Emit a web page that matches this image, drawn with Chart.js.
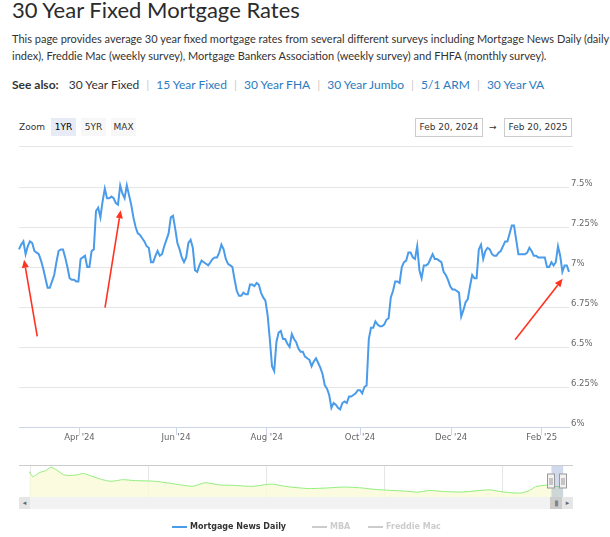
<!DOCTYPE html>
<html>
<head>
<meta charset="utf-8">
<script src="https://cdn.jsdelivr.net/npm/chart.js@4.4.1/dist/chart.umd.min.js"></script>
<style>
  body { margin:0; width:610px; height:537px; position:relative; overflow:hidden; background:#fff; font-family: Lato, sans-serif; color:#333; }
  h1 { position:absolute; left:12px; top:-1px; margin:0; font-size:22px; line-height:22px; font-weight:400; color:#2b2b2b; white-space:nowrap; }
  .intro { position:absolute; left:12px; top:30px; width:600px; font-size:11px; line-height:17px; margin:0; }
  .see { position:absolute; left:12px; top:77px; font-size:12px; line-height:16px; white-space:nowrap; }
  .see b { font-weight:700; margin-right:7px; }
  .see a { color:#2b7bbf; text-decoration:none; }
  .see .sep { color:#ccc; margin:0 7px; }
  .rs { position:absolute; font-family:"DejaVu Sans", sans-serif; font-size:9px; color:#333; }
  .btn { position:absolute; top:118px; height:18px; width:25px; line-height:18px; text-align:center; background:#f7f7f7; }
  .btn.on { background:#e6ebf5; color:#000; }
  .date { position:absolute; top:118px; height:17px; line-height:17px; width:66px; border:1px solid #ccc; text-align:center; }
  .hr { position:absolute; left:19px; top:146px; width:554px; height:1px; background:#e6e6e6; }
  canvas { position:absolute; left:0; }
  .sb { position:absolute; top:497px; height:12px; background:#f2f2f2; }
  .sbtn { position:absolute; top:497px; height:12px; width:11px; background:#e6e6e6; font-family:"DejaVu Sans"; font-size:7px; line-height:12px; text-align:center; color:#666; }
  .thumb { position:absolute; top:497px; height:12px; background:#cccccc; font-family:"DejaVu Sans"; font-size:6px; line-height:12px; text-align:center; color:#333; letter-spacing:-1px; }
  .legend { position:absolute; top:520px; left:0; width:610px; height:14px; font-family:"DejaVu Sans", sans-serif; font-size:8px; font-weight:bold; }
  .legend span { position:absolute; top:0; line-height:14px; white-space:nowrap; }
  .legend i { position:absolute; top:6px; height:2px; width:15px; }
</style>
</head>
<body>
<h1>30 Year Fixed Mortgage Rates</h1>
<p class="intro">This page provides average 30 year fixed mortgage rates from several different surveys including Mortgage News Daily (daily index), Freddie Mac (weekly survey), Mortgage Bankers Association (weekly survey) and FHFA (monthly survey).</p>
<div class="see"><b>See also:</b> 30 Year Fixed<span class="sep">|</span><a>15 Year Fixed</a><span class="sep">|</span><a>30 Year FHA</a><span class="sep">|</span><a>30 Year Jumbo</a><span class="sep">|</span><a>5/1 ARM</a><span class="sep">|</span><a>30 Year VA</a></div>

<div class="rs" style="left:19px; top:118px; line-height:18px;">Zoom</div>
<div class="rs btn on" style="left:51px;">1YR</div>
<div class="rs btn" style="left:81px;">5YR</div>
<div class="rs btn" style="left:111px;">MAX</div>
<div class="rs date" style="left:415px;">Feb 20, 2024</div>
<div class="rs" style="left:489px; top:118px; line-height:18px;">→</div>
<div class="rs date" style="left:504px;">Feb 20, 2025</div>
<div class="hr"></div>

<canvas id="rateChart" width="610" height="300" style="top:150px;"></canvas>
<canvas id="navChart" width="610" height="40" style="top:460px;"></canvas>

<div class="sb" style="left:19px; width:554px;"></div>
<div class="sbtn" style="left:19px;">◂</div>
<div class="thumb" style="left:550px; width:12px;">|||</div>
<div class="sbtn" style="left:562px;">▸</div>

<div class="legend" id="legend"></div>

<script>
// Mortgage News Daily 30yr fixed, one value per trading day, Feb 20 2024 -> Feb 20 2025
const rates = [
  7.11, 7.14, 7.16, 7.08, 7.13, 7.16, 7.15, 7.10, 7.09, 7.08,
  7.04, 6.99, 6.93, 6.87, 6.87, 6.91, 6.95, 7.03, 7.10, 7.11,
  7.11, 7.06, 7.00, 6.93, 6.92, 6.92, 6.91, 6.91, 7.05, 7.06,
  7.07, 7.00, 7.00, 7.10, 7.11, 7.35, 7.37, 7.31, 7.41, 7.49,
  7.43, 7.43, 7.44, 7.43, 7.40, 7.39, 7.51, 7.46, 7.43, 7.51,
  7.45, 7.39, 7.31, 7.25, 7.21, 7.20, 7.18, 7.16, 7.13, 7.12,
  7.03, 7.03, 7.07, 7.10, 7.07, 7.08, 7.13, 7.17, 7.21, 7.31,
  7.32, 7.24, 7.15, 7.11, 7.06, 7.03, 7.06, 7.15, 7.17, 7.12,
  6.98, 6.97, 7.01, 7.04, 7.03, 7.02, 7.01, 7.03, 7.05, 7.06,
  7.06, 7.09, 7.14, 7.11, 7.05, 7.02, 7.01, 7.00, 6.92, 6.85,
  6.82, 6.82, 6.84, 6.83, 6.83, 6.89, 6.89, 6.88, 6.90, 6.89,
  6.84, 6.81, 6.79, 6.70, 6.55, 6.38, 6.35, 6.53, 6.59, 6.60,
  6.55, 6.55, 6.52, 6.50, 6.58, 6.55, 6.53, 6.49, 6.47, 6.47,
  6.44, 6.43, 6.42, 6.38, 6.41, 6.43, 6.40, 6.37, 6.33, 6.26,
  6.24, 6.20, 6.12, 6.15, 6.14, 6.12, 6.11, 6.15, 6.16, 6.15,
  6.19, 6.19, 6.20, 6.21, 6.23, 6.23, 6.21, 6.25, 6.26, 6.55,
  6.62, 6.62, 6.66, 6.64, 6.63, 6.63, 6.64, 6.67, 6.68, 6.81,
  6.85, 6.91, 6.91, 6.90, 7.00, 7.03, 7.04, 7.09, 7.09, 7.06,
  7.05, 7.13, 6.98, 6.93, 7.01, 7.01, 7.02, 7.05, 7.08, 7.05,
  7.05, 7.04, 7.03, 6.97, 6.95, 6.92, 6.88, 6.86, 6.86, 6.85,
  6.84, 6.69, 6.73, 6.78, 6.80, 6.88, 6.95, 6.93, 6.93, 7.11,
  7.14, 7.05, 7.10, 7.12, 7.11, 7.08, 7.07, 7.07, 7.09, 7.10,
  7.13, 7.16, 7.16, 7.21, 7.26, 7.26, 7.17, 7.08, 7.08, 7.08,
  7.08, 7.09, 7.12, 7.10, 7.07, 7.07, 7.06, 7.06, 7.06, 7.06,
  7.00, 7.00, 7.03, 7.01, 7.03, 7.13, 7.07, 6.97, 7.01, 7.01,
  6.97
];

// x axis ticks (trading-day index of the first session of the month)
const xTickIdx = [27.5, 71.4, 112.6, 155, 196.4, 237.6];
const xTickLabels = ["Apr '24", "Jun '24", "Aug '24", "Oct '24", "Dec '24", "Feb '25"];
const yTicks = [6, 6.25, 6.5, 6.75, 7, 7.25, 7.5];

// red annotation arrows: [fromIdx, fromRate, toIdx, toRate]
const arrows = [
  [8.3, 6.566, 2.3, 7.045],
  [39.1, 6.746, 46.2, 7.355],
  [225.5, 6.545, 247.1, 6.926]
];
const arrowColor = '#ff3320';

// navigator: long-run history
const navYears = [1979.9, 1980.2, 1980.5, 1980.8, 1981.3, 1981.7, 1982.2, 1982.8, 1983.3, 1984.0,
  1984.5, 1985.3, 1986.1, 1986.8, 1987.4, 1987.8, 1988.9, 1990.0, 1990.7, 1992.1,
  1993.0, 1993.8, 1994.8, 1996.0, 1997.3, 1998.8, 2000.4, 2001.7, 2003.5, 2005.0,
  2006.6, 2008.0, 2009.3, 2010.5, 2012.0, 2012.8, 2013.8, 2015.0, 2016.6, 2018.9,
  2019.8, 2020.8, 2021.6, 2022.3, 2022.8, 2023.8, 2024.6, 2025.1];
const navRates = [15.8, 12.8, 14.0, 15.4, 16.5, 18.5, 17.0, 14.0, 13.5, 14.0,
  14.8, 12.8, 11.0, 10.0, 10.5, 11.0, 10.4, 10.2, 9.9, 8.5,
  7.5, 7.0, 9.1, 7.8, 7.5, 6.9, 8.3, 6.8, 5.6, 5.9,
  6.5, 6.0, 5.0, 4.5, 3.9, 3.4, 4.4, 3.8, 3.5, 4.8,
  3.8, 3.0, 2.9, 4.5, 6.7, 7.7, 6.8, 7.0];
const navTicks = [1980, 1990, 2000, 2010, 2020];
const navRange = [2024.14, 2025.14];

const seriesNames = ['Mortgage News Daily', 'MBA', 'Freddie Mac'];
const seriesColors = ['#4a9be9', '#cccccc', '#cccccc'];
const seriesText = ['#333333', '#cccccc', '#cccccc'];

const axisFont = { family: 'DejaVu Sans', size: 8.5 };

const arrowPlugin = {
  id: 'arrows',
  afterDatasetsDraw(chart) {
    const { ctx, scales: { x, y } } = chart;
    ctx.save();
    ctx.strokeStyle = arrowColor;
    ctx.fillStyle = arrowColor;
    ctx.lineWidth = 1.6;
    arrows.forEach(([x0, y0, x1, y1]) => {
      const ax = x.getPixelForValue(x0), ay = y.getPixelForValue(y0);
      const bx = x.getPixelForValue(x1), by = y.getPixelForValue(y1);
      const ang = Math.atan2(by - ay, bx - ax);
      const head = 8, half = 3.5;
      const hx = bx - head * Math.cos(ang), hy = by - head * Math.sin(ang);
      ctx.beginPath(); ctx.moveTo(ax, ay); ctx.lineTo(hx, hy); ctx.stroke();
      ctx.beginPath();
      ctx.moveTo(bx, by);
      ctx.lineTo(hx + half * Math.sin(ang), hy - half * Math.cos(ang));
      ctx.lineTo(hx - half * Math.sin(ang), hy + half * Math.cos(ang));
      ctx.closePath();
      ctx.fill();
    });
    ctx.restore();
  }
};

new Chart(document.getElementById('rateChart'), {
  type: 'line',
  data: {
    datasets: [{
      label: seriesNames[0],
      data: rates.map((v, i) => ({ x: i, y: v })),
      borderColor: seriesColors[0],
      borderWidth: 2,
      pointRadius: 0,
      tension: 0,
      clip: false
    }]
  },
  options: {
    responsive: false,
    animation: false,
    layout: { padding: { left: 19, right: 0, top: 37, bottom: 8 } },
    plugins: { legend: { display: false }, tooltip: { enabled: false } },
    scales: {
      x: {
        type: 'linear',
        min: 0,
        max: rates.length - 1,
        afterBuildTicks: s => { s.ticks = xTickIdx.map(v => ({ value: v })); },
        afterFit: s => { s.height = 15; },
        ticks: {
          autoSkip: false, maxRotation: 0, padding: -2,
          color: '#666', font: axisFont,
          callback: (v, i) => xTickLabels[i]
        },
        grid: { drawOnChartArea: false, drawTicks: true, tickLength: 8, tickColor: '#ccd6eb' },
        border: { display: true, color: '#ccd6eb' }
      },
      y: {
        position: 'right',
        min: 6,
        max: 7.5,
        afterBuildTicks: s => { s.ticks = yTicks.map(v => ({ value: v })); },
        afterFit: s => { s.width = 41; },
        ticks: {
          padding: 2, labelOffset: -3, color: '#666', font: axisFont,
          callback: v => v + '%'
        },
        grid: { color: '#e6e6e6', drawTicks: false },
        border: { display: false }
      }
    }
  },
  plugins: [arrowPlugin]
});

const navPlugin = {
  id: 'navMask',
  afterDatasetsDraw(chart) {
    const { ctx, chartArea: a, scales: { x } } = chart;
    const l = x.getPixelForValue(navRange[0]), r = x.getPixelForValue(navRange[1]);
    ctx.save();
    ctx.fillStyle = 'rgba(102,133,194,0.3)';
    ctx.fillRect(l, a.top, r - l, a.bottom - a.top);
    ctx.strokeStyle = '#cccccc';
    ctx.lineWidth = 1;
    ctx.beginPath();
    ctx.moveTo(a.left, a.top + 0.5); ctx.lineTo(a.right, a.top + 0.5);
    ctx.stroke();
    const mid = Math.round((a.top + a.bottom) / 2);
    [l, r].forEach(px => {
      const hx = Math.round(px) - 3.5;
      ctx.fillStyle = '#f2f2f2';
      ctx.strokeStyle = '#999';
      ctx.fillRect(hx, mid - 7, 7, 14);
      ctx.strokeRect(hx, mid - 7, 7, 14);
      ctx.beginPath();
      ctx.moveTo(hx + 2.5, mid - 3); ctx.lineTo(hx + 2.5, mid + 4);
      ctx.moveTo(hx + 4.5, mid - 3); ctx.lineTo(hx + 4.5, mid + 4);
      ctx.stroke();
    });
    ctx.restore();
  }
};

new Chart(document.getElementById('navChart'), {
  type: 'line',
  data: {
    datasets: [{
      data: navYears.map((yr, i) => ({ x: yr, y: navRates[i] })),
      borderColor: '#90ed7d',
      borderWidth: 1,
      backgroundColor: 'rgba(250,250,215,0.8)',
      fill: 'start',
      pointRadius: 0,
      tension: 0.2
    }]
  },
  options: {
    responsive: false,
    animation: false,
    layout: { padding: { left: 19, right: 37, top: 5, bottom: 3 } },
    plugins: { legend: { display: false }, tooltip: { enabled: false } },
    scales: {
      x: {
        type: 'linear',
        min: 1979.03,
        max: 2025.97,
        afterBuildTicks: s => { s.ticks = navTicks.map(v => ({ value: v })); },
        afterFit: s => { s.height = 0; },
        ticks: {
          align: 'start', labelOffset: 3, padding: -12, maxRotation: 0, autoSkip: false,
          color: '#999', font: axisFont,
          callback: v => String(v)
        },
        grid: { color: '#e6e6e6', drawTicks: false },
        border: { display: false }
      },
      y: { display: false, min: 0.45, max: 19.9 }
    }
  },
  plugins: [navPlugin]
});

// legend
const legendX = [172, 312, 368];
const legend = document.getElementById('legend');
seriesNames.forEach((name, i) => {
  const sym = document.createElement('i');
  sym.style.left = legendX[i] + 'px';
  sym.style.background = seriesColors[i];
  const txt = document.createElement('span');
  txt.style.left = (legendX[i] + 18) + 'px';
  txt.style.color = seriesText[i];
  txt.textContent = name;
  legend.appendChild(sym);
  legend.appendChild(txt);
});
</script>
</body>
</html>
